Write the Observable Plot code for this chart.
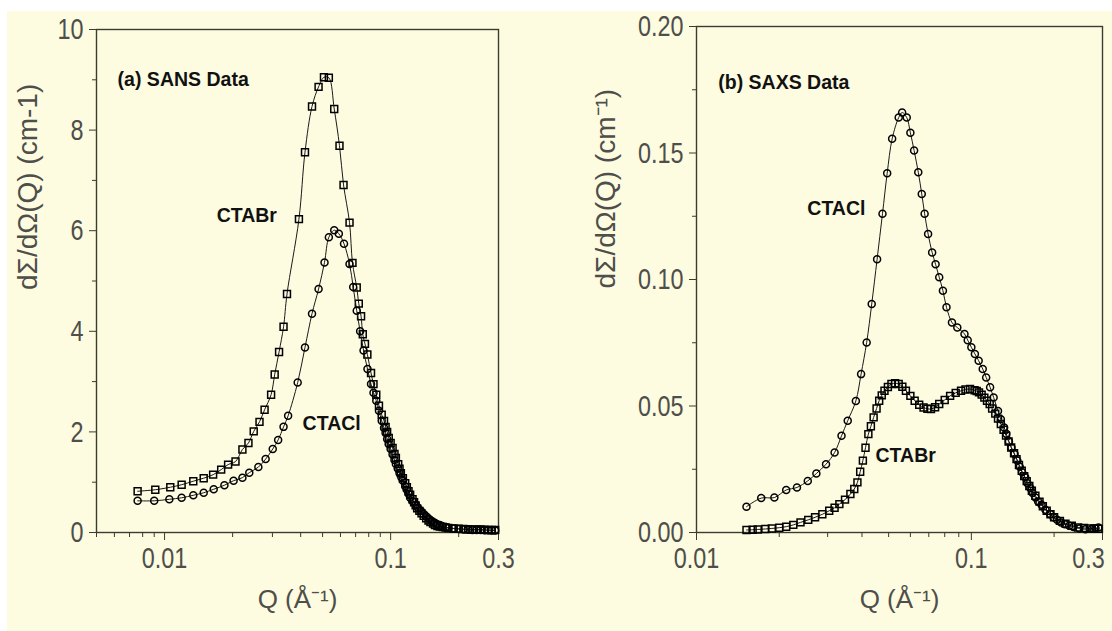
<!DOCTYPE html>
<html><head><meta charset="utf-8">
<script src="https://cdn.jsdelivr.net/npm/d3@7"></script>
<script src="https://cdn.jsdelivr.net/npm/@observablehq/plot@0.6"></script>
<style>
html,body{margin:0;padding:0;background:#fff;overflow:hidden}
#wrap{position:relative;width:1112px;height:631px;background:#fff;overflow:hidden}
#bg{position:absolute;left:7px;top:11px;right:0;bottom:0;background:#fdfce1}
.panel{position:absolute;top:0}
.panel svg{overflow:visible}
.panel g[aria-label$="tick label"]{fill:#4e4e4a}
</style></head><body>
<div id="wrap"><div id="bg"></div><div id="pa" class="panel" style="left:0"></div><div id="pb" class="panel" style="left:556px"></div></div>
<script>
// ---------- (a) SANS data ----------
const sansBrQ = [0.0076,0.0091,0.0106,0.0119,0.0134,0.0149,0.0164,0.0178,0.0191,0.0206,0.0221,0.0235,0.0248,0.0263,0.0277,0.0296,0.0307,0.0321,0.0336,0.0348,0.0393,0.0418,0.0449,0.0480,0.0507,0.0533,0.0563,0.0594,0.0619,0.0658,0.0678,0.0708,0.0723,0.0740,0.0753,0.0770,0.0789,0.0819,0.0840,0.0864,0.0888,0.0913,0.0935,0.0950,0.0965,0.0981,0.1000,0.1020,0.1040,0.1055,0.1080,0.1095,0.1110,0.1133,0.1160,0.118,0.120,0.122,0.125,0.127,0.129,0.131,0.134,0.137,0.140,0.1436,0.147,0.150,0.154,0.157,0.161,0.165,0.170,0.175,0.18,0.19,0.20,0.21,0.22,0.23,0.24,0.25,0.26,0.27,0.28,0.29];
const sansBrI = [0.82,0.85,0.90,0.95,1.02,1.08,1.15,1.25,1.35,1.41,1.65,1.78,2.01,2.20,2.44,2.74,3.14,3.59,4.09,4.74,6.23,7.56,8.47,8.86,9.05,9.04,8.42,7.69,6.91,6.16,5.36,4.87,4.55,4.30,3.94,3.75,3.54,3.17,2.95,2.74,2.52,2.34,2.22,2.10,2.00,1.88,1.78,1.68,1.56,1.48,1.36,1.27,1.18,1.08,0.98,0.90,0.82,0.75,0.66,0.60,0.54,0.48,0.43,0.38,0.33,0.28,0.24,0.21,0.18,0.15,0.13,0.12,0.11,0.10,0.09,0.08,0.075,0.07,0.065,0.06,0.06,0.06,0.055,0.05,0.05,0.05];
const sansClQ = [0.0076,0.0090,0.0105,0.0119,0.0134,0.0149,0.0165,0.0184,0.0202,0.0221,0.0237,0.0260,0.0280,0.0301,0.0318,0.0336,0.0352,0.0388,0.0418,0.0449,0.0480,0.0510,0.0533,0.0563,0.0590,0.0622,0.0658,0.0683,0.0708,0.0733,0.0759,0.0790,0.0819,0.0840,0.0864,0.0888,0.0913,0.0935,0.0950,0.0965,0.0980,0.1000,0.1020,0.1040,0.1055,0.1075,0.1095,0.1115,0.1133,0.116,0.118,0.120,0.122,0.125,0.129,0.132,0.136,0.140,0.144,0.148,0.152,0.156,0.160,0.165,0.169,0.175,0.18,0.19,0.20,0.21,0.22,0.23,0.24,0.25,0.26,0.27,0.28,0.29];
const sansClI = [0.63,0.63,0.66,0.69,0.74,0.79,0.86,0.94,1.03,1.09,1.19,1.30,1.46,1.66,1.84,2.10,2.32,2.98,3.68,4.35,4.84,5.37,5.87,6.01,5.94,5.74,5.34,4.88,4.41,4.00,3.62,3.25,2.95,2.78,2.62,2.42,2.22,2.08,1.98,1.86,1.76,1.66,1.55,1.44,1.36,1.27,1.18,1.10,1.03,0.92,0.85,0.77,0.69,0.62,0.55,0.49,0.43,0.37,0.32,0.27,0.23,0.20,0.17,0.15,0.13,0.11,0.09,0.08,0.07,0.06,0.055,0.05,0.05,0.05,0.045,0.045,0.04,0.04];

// ---------- (b) SAXS data ----------
const saxsClQ = [0.0152,0.0172,0.0192,0.0212,0.0232,0.0254,0.0273,0.0296,0.0318,0.0337,0.0355,0.0380,0.0397,0.0416,0.0434,0.0454,0.0475,0.0494,0.0515,0.0544,0.0560,0.0582,0.0600,0.0619,0.0641,0.0660,0.0676,0.0696,0.0720,0.0741,0.0764,0.0788,0.0812,0.0850,0.0889,0.0944,0.097,0.1000,0.103,0.1063,0.110,0.1132,0.117,0.1205,0.125,0.128,0.1316,0.134,0.137,0.140,0.1436,0.147,0.150,0.153,0.1570,0.160,0.164,0.167,0.1710,0.175,0.180,0.186,0.1935,0.199,0.205,0.212,0.2190,0.227,0.235,0.247,0.2600,0.275,0.283,0.2900];
const saxsClI = [0.0102,0.0136,0.0138,0.0168,0.0178,0.0204,0.0233,0.0270,0.0316,0.0382,0.0442,0.0520,0.0626,0.0751,0.0903,0.1080,0.1260,0.1420,0.1556,0.1640,0.1660,0.1640,0.1580,0.1510,0.1424,0.1338,0.1260,0.1180,0.1107,0.1060,0.1009,0.0956,0.0890,0.0830,0.0810,0.0785,0.0760,0.0732,0.0706,0.0679,0.0646,0.0613,0.0574,0.0534,0.0480,0.0448,0.0415,0.0390,0.0360,0.0335,0.0310,0.0285,0.0260,0.0238,0.0218,0.0195,0.0175,0.0156,0.0138,0.0123,0.0110,0.0090,0.0073,0.0060,0.0050,0.0040,0.0033,0.0027,0.0022,0.0016,0.0013,0.0015,0.0017,0.0020];
const saxsBrQ = [0.0152,0.0160,0.0167,0.0178,0.0188,0.0200,0.0212,0.0225,0.0239,0.0255,0.0270,0.0287,0.0304,0.0318,0.0331,0.0347,0.0363,0.0375,0.0385,0.0394,0.0403,0.0412,0.0422,0.0431,0.0441,0.0452,0.0462,0.0472,0.0483,0.0497,0.0512,0.0528,0.0544,0.0561,0.0578,0.0600,0.0622,0.0646,0.0670,0.0692,0.0713,0.0738,0.0764,0.0800,0.0837,0.0877,0.0917,0.0952,0.0989,0.1027,0.1046,0.1066,0.109,0.1115,0.114,0.1166,0.119,0.1222,0.125,0.1280,0.131,0.1337,0.1366,0.1396,0.143,0.1460,0.149,0.1525,0.1557,0.1590,0.1625,0.1660,0.171,0.1770,0.182,0.1880,0.194,0.2000,0.21,0.2200,0.232,0.2445,0.257,0.2700,0.28,0.2900];
const saxsBrI = [0.0010,0.0011,0.0012,0.0014,0.0016,0.0019,0.0023,0.0030,0.0040,0.0050,0.0060,0.0072,0.0086,0.0098,0.0112,0.0130,0.0152,0.0172,0.0198,0.0240,0.0284,0.0335,0.0389,0.0420,0.0455,0.0490,0.0521,0.0542,0.0560,0.0575,0.0587,0.0590,0.0587,0.0576,0.0560,0.0540,0.0521,0.0505,0.0494,0.0489,0.0488,0.0495,0.0508,0.0524,0.0540,0.0552,0.0560,0.0565,0.0567,0.0562,0.0559,0.0554,0.0545,0.0533,0.0521,0.0508,0.0490,0.0470,0.0450,0.0429,0.0406,0.0383,0.0360,0.0336,0.0313,0.0290,0.0267,0.0244,0.0223,0.0203,0.0184,0.0165,0.0145,0.0122,0.0104,0.0086,0.0072,0.0060,0.0046,0.0035,0.0027,0.0020,0.0018,0.0016,0.0015,0.0015];

// ---------- axes / ticks ----------
const xMajorA = [0.01, 0.1, 0.3];
const xMinorA = [0.005,0.006,0.007,0.008,0.009,0.02,0.03,0.04,0.05,0.06,0.07,0.08,0.09,0.2];
const yMajorA = [0,2,4,6,8,10];
const yMinorA = [1,3,5,7,9];
const xMajorB = [0.01, 0.1, 0.3];
const xMinorB = [0.02,0.03,0.04,0.05,0.06,0.07,0.08,0.09,0.2];
const yMajorB = [0,0.05,0.10,0.15,0.20];
const yMinorB = [0.025,0.075,0.125,0.175];

// ---------- annotations ----------
const notesA = [
  {q: 0.0062, v: 9.0, t: "(a) SANS Data"},
  {q: 0.0170, v: 6.3, t: "CTABr"},
  {q: 0.0408, v: 2.16, t: "CTACl"}
];
const notesB = [
  {q: 0.0120, v: 0.1778, t: "(b) SAXS Data"},
  {q: 0.0253, v: 0.128, t: "CTACl"},
  {q: 0.0448, v: 0.0305, t: "CTABr"}
];

const zip = (Q, I) => Q.map((q, k) => ({q, v: I[k]}));
const ink = "#3c3c2e";
const tickFont = "'Liberation Sans',Arial,sans-serif";
const boldFont = "'Liberation Sans',Arial,sans-serif";

function panel(o) {
  const marks = [
    Plot.frame({stroke: ink, strokeWidth: 1.4}),
    Plot.axisX({ticks: o.xMajor, tickFormat: d => String(d), tickSize: 8, tickPadding: 6, label: null, stroke: ink}),
    Plot.axisX({ticks: o.xMinor, tickFormat: () => "", tickSize: 5, label: null, stroke: ink}),
    Plot.axisY({ticks: o.yMajor, tickFormat: o.yFmt, tickSize: 7, tickPadding: 6, label: null, stroke: ink}),
    Plot.axisY({ticks: o.yMinor, tickFormat: () => "", tickSize: 4, label: null, stroke: ink}),
  ];
  for (const s of o.series) {
    marks.push(Plot.line(s.data, {x: "q", y: "v", curve: "catmull-rom", stroke: "#1a1a1a", strokeWidth: 1}));
    marks.push(Plot.dot(s.data, {x: "q", y: "v", symbol: s.symbol, r: s.r, fill: "none", stroke: "#000", strokeWidth: 1.5}));
  }
  marks.push(Plot.text(o.notes, {x: "q", y: "v", text: "t", textAnchor: "start", fontWeight: "bold", fontFamily: boldFont, fontSize: 19.5, fill: "#111"}));
  marks.push(Plot.text([o.xLabel], {text: d => d, frameAnchor: "bottom", dy: 75, fontFamily: "'Liberation Sans',Arial,sans-serif", fontSize: 26, fill: "#4e4e4a"}));
  marks.push(Plot.text([o.yLabel], {text: d => d, frameAnchor: "left", rotate: -90, dx: o.yLabelDx, dy: 9, fontFamily: "'Liberation Sans',Arial,sans-serif", fontSize: 28, fill: "#4e4e4a"}));
  return Plot.plot({
    width: 556, height: 631,
    marginLeft: o.ml, marginRight: o.mr, marginTop: o.mt, marginBottom: 99,
    x: {type: "log", domain: o.xDomain},
    y: {domain: o.yDomain},
    style: {background: "transparent", color: ink, fontFamily: tickFont, fontSize: "30px", overflow: "visible"},
    marks
  });
}

document.getElementById("pa").appendChild(panel({
  xDomain: [0.005, 0.3], yDomain: [0, 10],
  xMajor: xMajorA, xMinor: xMinorA, yMajor: yMajorA, yMinor: yMinorA, yFmt: d => String(d),
  series: [
    {data: zip(sansBrQ, sansBrI), symbol: "square", r: 3.9},
    {data: zip(sansClQ, sansClI), symbol: "circle", r: 3.5}
  ],
  notes: notesA, xLabel: "Q (Å\u207B\u00B9)", yLabel: "dΣ/dΩ(Q) (cm-1)", yLabelDx: -68,
  ml: 96, mr: 58, mt: 29
}));
document.getElementById("pb").appendChild(panel({
  xDomain: [0.01, 0.3], yDomain: [0, 0.2],
  xMajor: xMajorB, xMinor: xMinorB, yMajor: yMajorB, yMinor: yMinorB, yFmt: d3.format(".2f"),
  series: [
    {data: zip(saxsBrQ, saxsBrI), symbol: "square", r: 3.9},
    {data: zip(saxsClQ, saxsClI), symbol: "circle", r: 3.5}
  ],
  notes: notesB, xLabel: "Q (Å\u207B\u00B9)", yLabel: "dΣ/dΩ(Q) (cm\u207B\u00B9)", yLabelDx: -90,
  ml: 140, mr: 10, mt: 26
}));

// narrow, tall tick numerals as in the reference
for (const t of document.querySelectorAll('g[aria-label$="tick label"] text')) {
  const w = t.getComputedTextLength();
  if (w > 0) {
    t.setAttribute("textLength", (w * 0.78).toFixed(1));
    t.setAttribute("lengthAdjust", "spacingAndGlyphs");
  }
}
const lastB = [...document.querySelectorAll('#pb g[aria-label="x-axis tick label"] text')].find(t => t.textContent === "0.3");
if (lastB) lastB.setAttribute("dx", "-14");
</script>
</body></html>
